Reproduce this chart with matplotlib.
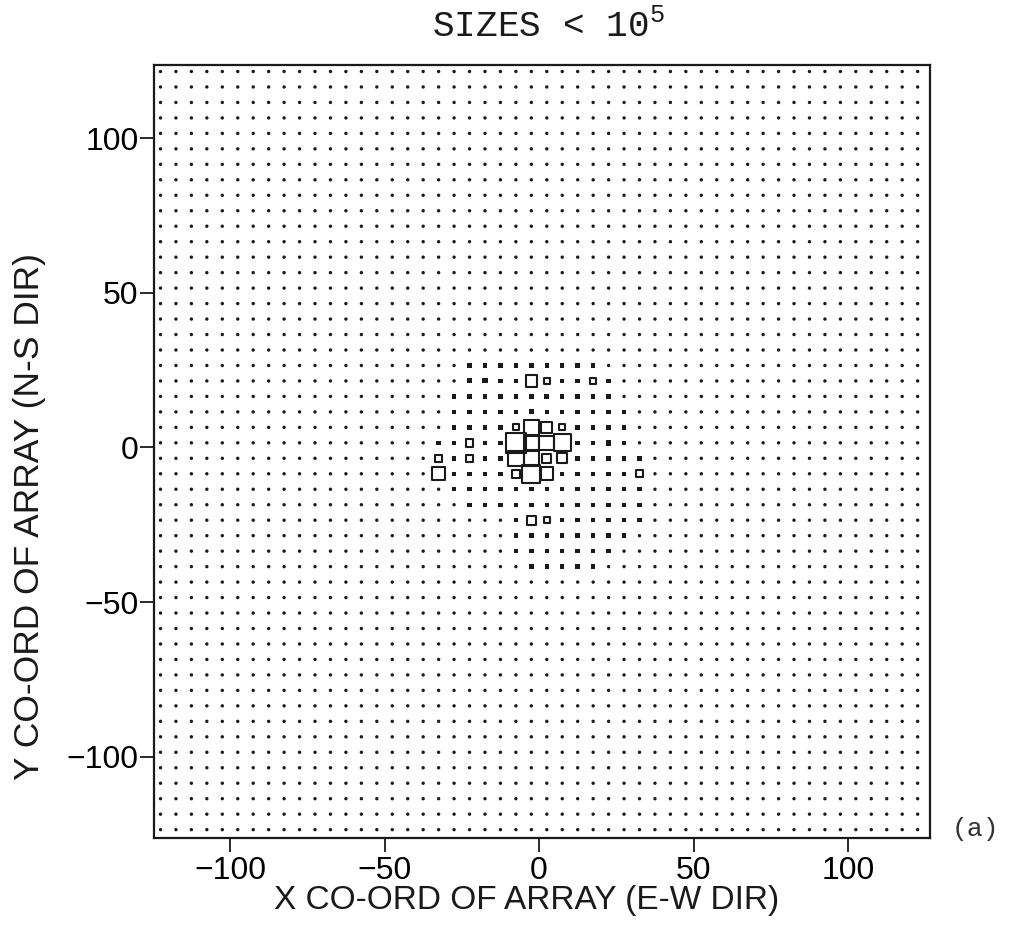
import numpy as np
import matplotlib
matplotlib.use("Agg")
import matplotlib.pyplot as plt

# Detector array: 50 x 50 stations on a 5 m pitch
x_centers = np.arange(-122.5, 123.0, 5.0)      # E-W station coordinates
y_centers = np.arange(-123.5, 122.0, 5.0)      # N-S station coordinates

# Relative signal level recorded at each station (1 = quiet station)
background_level = 1.0
core_level = 1.3

# Stations around the core with a raised signal: row index j -> (i_min, i_max)
# (station x = 2.5 + 5 i, y = 1.5 + 5 j)
core_rows = {
    5: (-5, 3), 4: (-5, 4), 3: (-6, 4), 2: (-6, 5), 1: (-6, 5),
    0: (-7, 5), -1: (-7, 6), -2: (-7, 6), -3: (-6, 6), -4: (-5, 6),
    -5: (-2, 6), -6: (-2, 5), -7: (-2, 4), -8: (-1, 3),
}

# Stations with strong signals: (i, j, level)
strong_i = [-1, 0, -5, -4, 3, 0, -1, -1, 0, 1, -2,
            -2, -1, 0, 1, -5, 4,
            -2, -1, 0, 1, -5, -7,
            -7, -2, -1, 0, 6,
            -1, 0]
strong_j = [4, 4, 4, 4, 4, 3, 2, 1, 1, 1, 1,
            0, 0, 0, 0, 0, 0,
            -1, -1, -1, -1, -1, -1,
            -2, -2, -2, -2, -2,
            -5, -5]
strong_level = [3.3, 1.8, 1.5, 1.5, 1.9, 1.5, 1.5, 4.3, 3.3, 1.8, 1.8,
                5.7, 4.3, 4.3, 5.0, 2.2, 1.6,
                4.5, 4.3, 2.7, 3.0, 2.2, 1.9,
                3.7, 2.3, 5.3, 3.7, 2.0,
                2.7, 1.8]

# Build the level map over the array
levels = np.full((len(y_centers), len(x_centers)), background_level)
i0 = int(np.argmin(np.abs(x_centers - 2.5)))   # column of the station at x = 2.5
j0 = int(np.argmin(np.abs(y_centers - 1.5)))   # row of the station at y = 1.5
for j, (imin, imax) in core_rows.items():
    levels[j0 + j, i0 + imin:i0 + imax + 1] = core_level
for i, j, v in zip(strong_i, strong_j, strong_level):
    levels[j0 + j, i0 + i] = v

X, Y = np.meshgrid(x_centers, y_centers)
xv, yv, lv = X.ravel(), Y.ravel(), levels.ravel()

# Figure
W, H, DPI = 1017, 931, 100
fig = plt.figure(figsize=(W / DPI, H / DPI), dpi=DPI)
ax = fig.add_axes([154 / W, 1 - 838 / H, (930 - 154) / W, (838 - 65) / H])

ink = "#1a1a1a"
px2pt = 72.0 / DPI
side_pt = 3.4 * lv * px2pt          # marker side grows with level
quiet = lv < 1.2
mid = (lv >= 1.2) & (lv < 1.7)
loud = lv >= 1.7
ax.scatter(xv[quiet], yv[quiet], s=side_pt[quiet] ** 2, marker="o",
           color=ink, linewidths=0, zorder=2)
ax.scatter(xv[mid], yv[mid], s=side_pt[mid] ** 2, marker="s",
           color=ink, linewidths=0, zorder=2)
ax.scatter(xv[loud], yv[loud], s=side_pt[loud] ** 2, marker="s",
           facecolors="none", edgecolors=ink, linewidths=1.5, zorder=3)

ax.set_xlim(-124.6, 126.5)
ax.set_ylim(-126.2, 123.6)
ticks = [-100, -50, 0, 50, 100]
ax.set_xticks(ticks)
ax.set_yticks(ticks)

tick_font = dict(family=["Liberation Sans", "DejaVu Sans"], size=23)
ax.set_xticklabels([str(t).replace("-", "\u2212") for t in ticks], **tick_font)
ax.set_yticklabels([str(t).replace("-", "\u2212") for t in ticks], **tick_font)
ax.tick_params(axis="both", direction="out", length=10, width=1.3, color=ink)
ax.tick_params(axis="x", pad=3)
ax.tick_params(axis="y", pad=1)
for sp in ax.spines.values():
    sp.set_linewidth(1.6)
    sp.set_color(ink)

label_font = dict(family=["Liberation Sans", "DejaVu Sans"], color=ink)
fig.text(527 / W, 1 - 900 / H, "X CO-ORD OF ARRAY (E-W DIR)",
         ha="center", va="center", size=24, **label_font)
fig.text(30 / W, 1 - 517 / H, "Y CO-ORD OF ARRAY (N-S DIR)",
         ha="center", va="center", rotation=90, size=25.5, **label_font)

mono = ["Liberation Mono", "DejaVu Sans Mono"]
fig.text(548 / W, 1 - 27 / H, r"SIZES < 10$^{\mathregular{5}}$",
         ha="center", va="center", family=mono, size=26, color=ink)
fig.text(975 / W, 1 - 829 / H, "(a)", ha="center", va="center",
         family=mono, size=19, color="#333333")

fig.savefig("out.png", dpi=DPI)
